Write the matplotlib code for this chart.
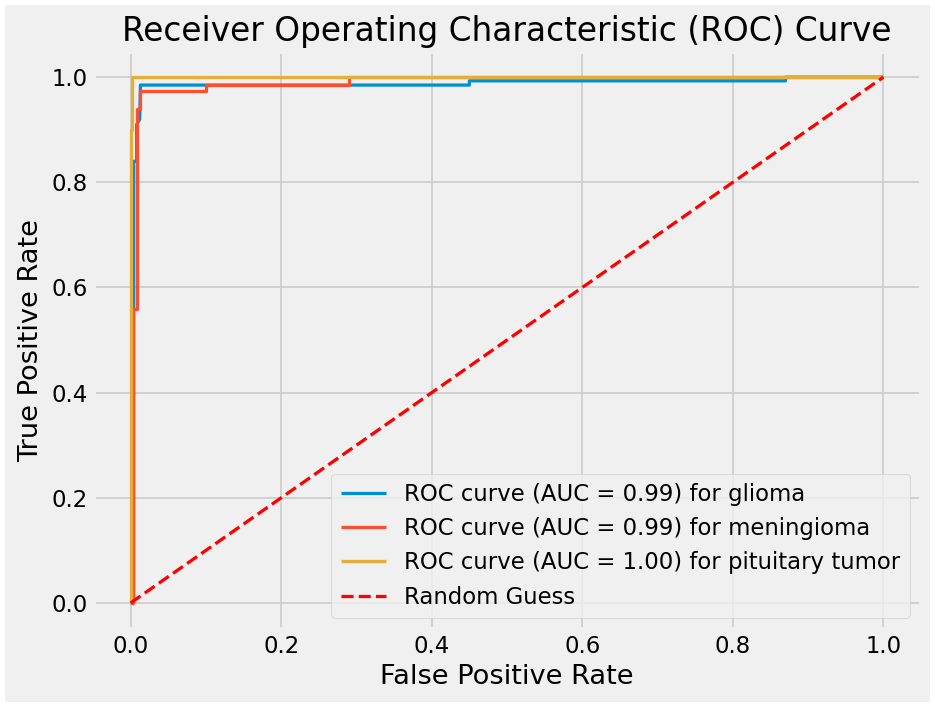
import matplotlib
matplotlib.use("Agg")
import matplotlib.pyplot as plt
import numpy as np

plt.style.use("fivethirtyeight")

# ROC points (fpr, tpr)
fpr_glioma = [0.0, 0.004, 0.004, 0.008, 0.008, 0.012, 0.013, 0.45, 0.45, 0.87, 0.87, 1.0]
tpr_glioma = [0.0, 0.0, 0.84, 0.84, 0.91, 0.92, 0.985, 0.985, 0.993, 0.993, 1.0, 1.0]

fpr_mening = [0.0, 0.003, 0.003, 0.003, 0.008, 0.008, 0.012, 0.012, 0.10, 0.10, 0.29, 0.29, 1.0]
tpr_mening = [0.0, 0.0, 0.10, 0.56, 0.56, 0.94, 0.94, 0.973, 0.973, 0.985, 0.985, 1.0, 1.0]

fpr_pit = [0.0, 0.0, 0.002, 0.002, 1.0]
tpr_pit = [0.0, 0.90, 0.90, 1.0, 1.0]

classes = ["glioma", "meningioma", "pituitary tumor"]
aucs = [0.99, 0.99, 1.00]

fig = plt.figure(figsize=(935/117, 707/117), dpi=117)
fig.patch.set_edgecolor("white")
fig.patch.set_linewidth(5)
ax = fig.add_subplot(111)
fig.subplots_adjust(left=0.0995, right=0.985, bottom=0.110, top=0.928)

curves = [(fpr_glioma, tpr_glioma), (fpr_mening, tpr_mening), (fpr_pit, tpr_pit)]
for (f, t), name, a in zip(curves, classes, aucs):
    ax.plot(f, t, lw=2, label=f"ROC curve (AUC = {a:.2f}) for {name}")

ax.plot([0, 1], [0, 1], "r--", lw=2, label="Random Guess")
ax.set_xlabel("False Positive Rate")
ax.set_ylabel("True Positive Rate")
ax.set_title("Receiver Operating Characteristic (ROC) Curve")
ax.legend(loc="lower right")

fig.savefig("out.png", dpi=117, edgecolor="white")
